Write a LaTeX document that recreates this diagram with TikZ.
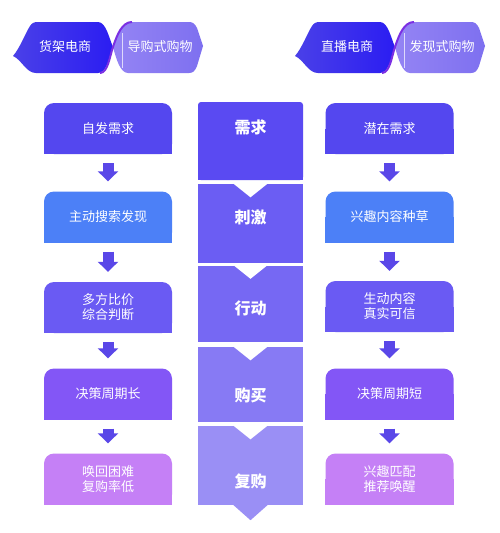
\documentclass[tikz,border=0pt]{standalone}
\usepackage{fontspec}
\setmainfont{Noto Sans CJK SC}
\usetikzlibrary{arrows.meta,backgrounds}
\definecolor{boxa}{HTML}{5447EF}
\definecolor{boxb}{HTML}{4C80F7}
\definecolor{boxc}{HTML}{6A5AF3}
\definecolor{boxd}{HTML}{8356F6}
\definecolor{boxe}{HTML}{C580F6}
\definecolor{sega}{HTML}{5A4AF2}
\definecolor{segb}{HTML}{6B5DF3}
\definecolor{segc}{HTML}{7668F3}
\definecolor{segd}{HTML}{877AF4}
\definecolor{sege}{HTML}{9A8FF5}
\definecolor{arrowc}{HTML}{5A47E8}
\definecolor{heada}{HTML}{4A40E8}
\definecolor{headb}{HTML}{2B1DF2}
\definecolor{headc}{HTML}{9484F4}
\definecolor{headd}{HTML}{7E70F0}
\definecolor{twist}{HTML}{7B2FE3}
\begin{document}
\begin{tikzpicture}[x=1pt,y=-1pt,
  box/.style={minimum width=128pt,minimum height=51pt,inner sep=0pt,
    rounded corners=10pt,text=white,align=center,
    font=\fontsize{13}{15}\selectfont},
  seg/.style={minimum width=105pt,inner sep=0pt},
  seglabel/.style={text=white,font=\fontsize{16}{18}\selectfont\bfseries},
  headtext/.style={text=white,font=\fontsize{13}{15}\selectfont},
  flowarrow/.style={draw=arrowc,line width=11pt,
    -{Triangle[width=20pt,length=10pt]},shorten <=9pt,shorten >=10pt}]
\useasboundingbox (0,0) rectangle (500,533);

% header ribbons
\foreach \dx/\ta/\tb/\n in {0/货架电商/导购式购物/a,282/直播电商/发现式购物/b}{
  \begin{scope}[xshift=\dx]
    \shade[left color=heada,right color=headb]
      (13,56) .. controls (20,48) and (26,32) .. (30,26)
      .. controls (32,23) and (34,22) .. (38,22) -- (98,22)
      .. controls (106,22) and (109,38) .. (113,47)
      .. controls (109,60) and (106,73) .. (98,73) -- (36,73)
      .. controls (26,73) and (22,60) .. cycle;
    \shade[left color=headc,right color=headd]
      (113,47) .. controls (117,35) and (122,22) .. (132,22) -- (189,22)
      .. controls (193,22) and (195,24) .. (197,28) -- (203,46)
      -- (197,66) .. controls (195,71) and (193,73) .. (189,73) -- (128,73)
      .. controls (120,73) and (116,58) .. cycle;
    \draw[twist,line width=2pt] (100,73) .. controls (108,73) and (110,55) .. (113,47)
      .. controls (117,35) and (122,22) .. (132,22);
    \draw[white,opacity=0.7,line width=0.6pt] (122,33) -- (122,68);
    \node[headtext] (h\n1) at (65,47) {\ta};
    \node[headtext] (h\n2) at (160,47) {\tb};
  \end{scope}
}

% left column
\node[box,fill=boxa] (l1) at (108,128.5) {自发需求};
\node[box,fill=boxb] (l2) at (108,217) {主动搜索发现};
\node[box,fill=boxc] (l3) at (108,307.5) {多方比价\\综合判断};
\node[box,fill=boxd] (l4) at (108,394) {决策周期长};
\node[box,fill=boxe] (l5) at (108,479) {唤回困难\\复购率低};

% right column
\node[box,fill=boxa] (r1) at (389.5,128.5) {潜在需求};
\node[box,fill=boxb] (r2) at (389.5,217) {兴趣内容种草};
\node[box,fill=boxc] (r3) at (389.5,306.5) {生动内容\\真实可信};
\node[box,fill=boxd] (r4) at (389.5,394) {决策周期短};
\node[box,fill=boxe] (r5) at (389.5,479) {兴趣匹配\\推荐唤醒};

% centre column
\node[seg,fill=sega,minimum height=78pt,rounded corners=3pt] (c1) at (250.5,141) {};
\node[seg,fill=segb,minimum height=79pt] (c2) at (250.5,223.5) {};
\node[seg,fill=segc,minimum height=76pt] (c3) at (250.5,303.5) {};
\node[seg,fill=segd,minimum height=75pt] (c4) at (250.5,384.5) {};
\node[seg,fill=sege,minimum height=79pt] (c5) at (250.5,465.5) {};
\foreach \n in {c2,c3,c4,c5}
  \fill[white] (\n.north) ++(-17.5,-0.5) -- ++(35,0) -- ++(-17.5,14) -- cycle;
\fill[sege] (c5.south) ++(-17.5,-0.5) -- ++(35,0) -- ++(-17.5,15.5) -- cycle;
\node[seglabel] (t1) at (250.5,127) {需求};
\node[seglabel] (t2) at (250.5,217) {刺激};
\node[seglabel] (t3) at (250.5,308) {行动};
\node[seglabel] (t4) at (250.5,395) {购买};
\node[seglabel] (t5) at (250.5,481) {复购};

\begin{scope}[on background layer]
  \fill[white] (0,0) rectangle (500,533);
  \foreach \n/\c in {l1/boxa,l2/boxb,l3/boxc,l4/boxd,l5/boxe,
                     r1/boxa,r2/boxb,r3/boxc,r4/boxd,r5/boxe,c1/sega}
    \fill[\c] (\n.west) rectangle (\n.south east);
\end{scope}

% arrows
\foreach \a/\b in {l1/l2,l2/l3,l3/l4,l4/l5,r1/r2,r2/r3,r3/r4,r4/r5}
  \draw[flowarrow] (\a) -- (\b);
\end{tikzpicture}
\end{document}
